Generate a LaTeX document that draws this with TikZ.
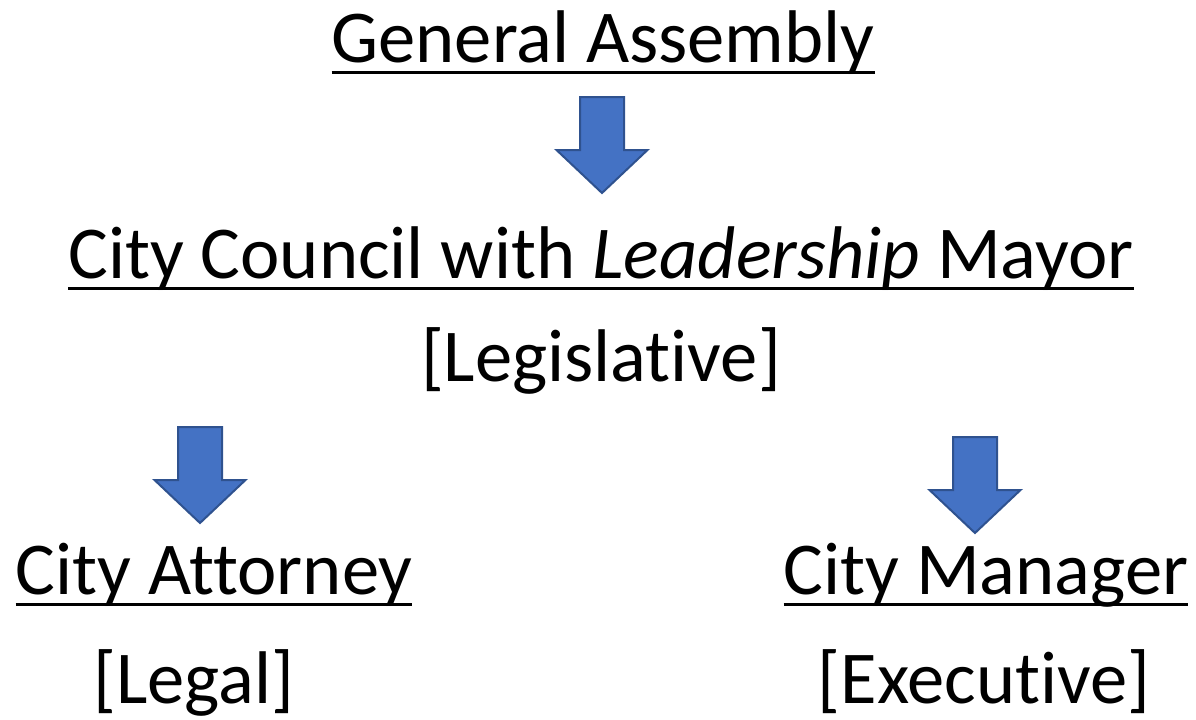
\documentclass[tikz,border=0pt]{standalone}
\usepackage{fontspec}
\setmainfont{Carlito}[Ligatures=NoCommon]
\usetikzlibrary{positioning}
\definecolor{arrowblue}{HTML}{4472C4}
\definecolor{arrowedge}{HTML}{2F528F}
\tikzset{
x=0.5pt, y=-0.5pt, % one unit is one pixel of the reference
every node/.style={inner sep=0pt, outer sep=0pt, anchor=base, font=\fontsize{37.3pt}{45pt}\selectfont}, % plain text nodes
uline/.style={line width=1.5pt}, % the underline under a title
blockarrow/.pic={
  \filldraw[fill=arrowblue, draw=arrowedge, line width=1pt, line join=miter]
    (-22,0) -- (22,0) -- (22,53) -- (45.5,53) -- (0,96) -- (-45.5,53) -- (-22,53) -- cycle;
}, % big down arrow
}
\begin{document}
\begin{tikzpicture}
    \useasboundingbox (0,0) rectangle (1196,719);

    \node (ga)    at (603,62)  {General Assembly};
    \node (cc)    at (601,278) {City Council with \textit{Leadership} Mayor};
    \node (leg)   at (601,381) {[Legislative]};
    \node (ca)    at (214,594) {City Attorney};
    \node (legal) at (194,703) {[Legal]};
    \node (cm)    at (986,594) {City Manager};
    \node (exec)  at (984,703) {[Executive]};

    % underlines
    \foreach \t in {ga, cc, ca, cm}
        \draw[uline] ([yshift=-5pt]\t.base west) -- ([yshift=-5pt]\t.base east);

    % arrows
    \pic at (602,97)  {blockarrow};
    \pic at (200,427) {blockarrow};
    \pic at (975,437) {blockarrow};
\end{tikzpicture}
\end{document}
